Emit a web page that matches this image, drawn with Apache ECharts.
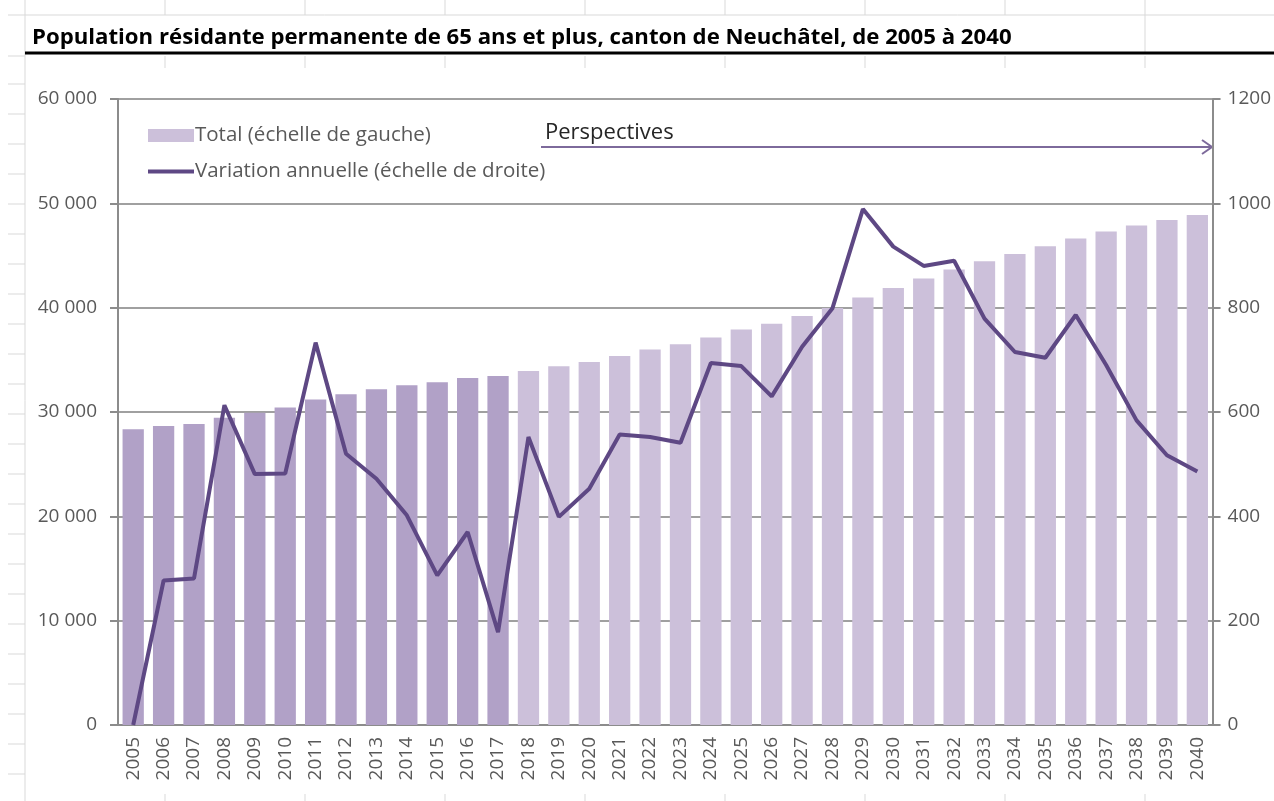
<!DOCTYPE html>
<html>
  <head>
    <meta http-equiv="Content-Type" content="text/html; charset=utf-8">
    <title>Population 65+ Neuchâtel</title>
    <style>
      html, body { margin: 0; padding: 0; background: #fff; }
      #chart { width: 1274px; height: 801px; }
    </style>
    <script src="https://cdn.jsdelivr.net/npm/echarts@6/dist/echarts.min.js"></script>
  </head>
  <body>
    <div id="chart"></div>
    <script type="text/javascript">
      // data
      var years = ['2005','2006','2007','2008','2009','2010','2011','2012','2013','2014','2015','2016',
        '2017','2018','2019','2020','2021','2022','2023','2024','2025','2026','2027','2028',
        '2029','2030','2031','2032','2033','2034','2035','2036','2037','2038','2039','2040'];
      var total = [28350, 28650, 28850, 29460, 29940, 30420, 31190, 31700, 32180, 32560, 32850, 33260,
        33450, 33930, 34380, 34790, 35370, 35980, 36490, 37130, 37900, 38470, 39200, 39970,
        40970, 41890, 42790, 43650, 44450, 45150, 45890, 46620, 47290, 47870, 48410, 48890];
      var variation = [0, 277, 281, 613, 481, 482, 733, 520, 472, 402, 287, 370,
        178, 552, 399, 453, 557, 552, 541, 694, 688, 630, 725, 799,
        989, 917, 880, 890, 779, 715, 704, 786, 690, 584, 517, 486];
      var lastObserved = '2017';
      var leftTicks = [0, 60000, 10000];
      var rightTicks = [0, 1200, 200];

      var darkBar = '#b1a1c7';
      var lightBar = '#ccc0da';
      var lineCol = '#5e4884';
      var gray = '#595959';

      var cut = years.indexOf(lastObserved);
      var barData = total.map(function (v, i) {
        return i <= cut ? { value: v, itemStyle: { color: darkBar } } : v;
      });

      // spreadsheet cell lines behind the chart object
      var sheet = [];
      var cellCol = '#d9d9d9';
      function seg(x1, y1, x2, y2) {
        sheet.push({ type: 'line', shape: { x1: x1, y1: y1, x2: x2, y2: y2 }, style: { stroke: cellCol, lineWidth: 1 } });
      }
      seg(25, 0, 25, 801);
      seg(8, 15, 1274, 15);
      seg(8, 56, 25, 56);
      for (var y = 84; y <= 790; y += 30) seg(8, y, 25, y);
      for (var x = 165; x < 1274; x += 140) {
        seg(x, 0, x, 15);
        seg(x, 56, x, 68);
        seg(x, 794, x, 801);
      }
      seg(1145, 15, 1145, 52);
      // thick border under the title
      sheet.push({ type: 'line', shape: { x1: 25, y1: 53, x2: 1274, y2: 53 }, style: { stroke: '#000', lineWidth: 3 } });

      // "Perspectives" arrow
      var arrow = [
        { type: 'line', shape: { x1: 541, y1: 147, x2: 1212, y2: 147 }, style: { stroke: '#7d6a9b', lineWidth: 2 } },
        { type: 'polyline', shape: { points: [[1202, 140], [1212, 147], [1202, 154]] }, style: { stroke: '#7d6a9b', lineWidth: 2, fill: null } },
        { type: 'text', x: 545, y: 133, style: { text: 'Perspectives', font: '22px "Open Sans"', fill: '#262626', textVerticalAlign: 'middle' } }
      ];

      var myChart = echarts.init(document.getElementById('chart'));
      myChart.setOption({
        animation: false,
        backgroundColor: '#fff',
        textStyle: { fontFamily: 'Open Sans' },
        title: {
          text: 'Population résidante permanente de 65 ans et plus, canton de Neuchâtel, de 2005 à 2040',
          left: 27, top: 22,
          textStyle: { fontFamily: 'Open Sans', fontWeight: 'bold', fontSize: 22.2, color: '#000' }
        },
        graphic: sheet.concat(arrow),
        legend: {
          orient: 'vertical', left: 141, top: 120,
          itemWidth: 46, itemHeight: 13, itemGap: 15,
          textStyle: { color: gray, fontSize: 20.5, padding: [0, 0, 0, -4] },
          data: [
            { name: 'Total (échelle de gauche)', icon: 'rect', itemStyle: { color: lightBar } },
            {
              name: 'Variation annuelle (échelle de droite)',
              itemStyle: { color: 'rgba(0,0,0,0)', borderWidth: 0 },
              lineStyle: { color: lineCol, width: 4 }
            }
          ]
        },
        grid: { left: 118, right: 61, top: 99, bottom: 76 },
        xAxis: {
          type: 'category', data: years,
          axisLine: { lineStyle: { color: '#8c8c8c', width: 2 } },
          axisTick: { length: 8, lineStyle: { color: '#8c8c8c', width: 2 } },
          axisLabel: { rotate: 90, color: gray, fontSize: 19, margin: 12, interval: 0 }
        },
        yAxis: [{
          type: 'value', min: leftTicks[0], max: leftTicks[1], interval: leftTicks[2],
          axisLine: { show: true, lineStyle: { color: '#8c8c8c', width: 2 } },
          axisTick: { show: true, length: 8, lineStyle: { color: '#8c8c8c', width: 2 } },
          splitLine: { lineStyle: { color: '#a0a0a0', width: 2 } },
          axisLabel: {
            color: gray, fontSize: 19, margin: 21,
            formatter: function (v) { return v === 0 ? '0' : (v / 1000) + ' 000'; }
          }
        }, {
          type: 'value', min: rightTicks[0], max: rightTicks[1], interval: rightTicks[2],
          axisLine: { show: true, lineStyle: { color: '#8c8c8c', width: 2 } },
          axisTick: { show: true, length: 8, lineStyle: { color: '#8c8c8c', width: 2 } },
          splitLine: { show: false },
          axisLabel: { color: gray, fontSize: 19, margin: 15, formatter: function (v) { return String(v); } }
        }],
        series: [{
          name: 'Total (échelle de gauche)', type: 'bar', data: barData,
          barCategoryGap: '30%',
          itemStyle: { color: lightBar }
        }, {
          name: 'Variation annuelle (échelle de droite)', type: 'line', yAxisIndex: 1,
          data: variation, symbol: 'none',
          itemStyle: { color: lineCol },
          lineStyle: { color: lineCol, width: 4 }
        }]
      });
    </script>
  </body>
</html>
